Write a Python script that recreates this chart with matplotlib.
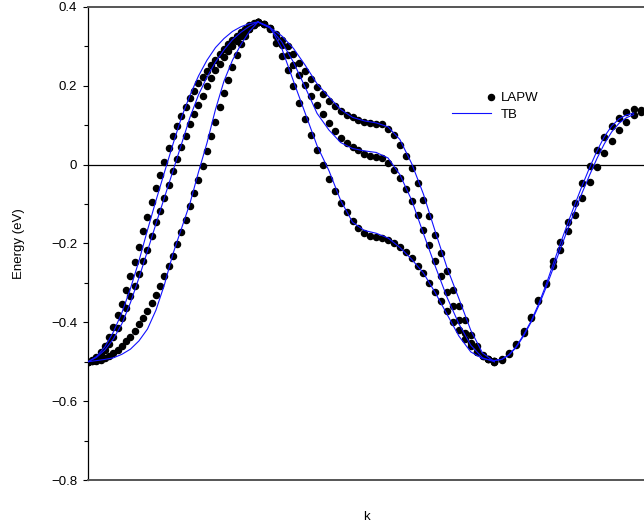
import matplotlib
matplotlib.use("Agg")
import matplotlib.pyplot as plt
from matplotlib.lines import Line2D
from matplotlib.legend_handler import HandlerLine2DCompound
from matplotlib.ticker import MultipleLocator, FuncFormatter
import numpy as np

plt.rcParams['font.family'] = ['Liberation Sans', 'DejaVu Sans']

# k-path: three segments (arbitrary units), uniform k mesh in each
seg_edges = [0.0, 170.0, 406.4, 553.0]
k_seg1 = np.linspace(seg_edges[0], seg_edges[1], 41)
k_seg2 = np.linspace(seg_edges[1], seg_edges[2], 41)
k_seg3 = np.linspace(seg_edges[2], seg_edges[3], 21)

# LAPW bands (eV), segment 1
lapw1_a = [-0.500, -0.495, -0.488, -0.476, -0.461, -0.437, -0.412, -0.382, -0.353, -0.317,
           -0.283, -0.246, -0.209, -0.169, -0.133, -0.095, -0.059, -0.025, 0.008, 0.041,
           0.072, 0.097, 0.124, 0.147, 0.168, 0.188, 0.206, 0.222, 0.237, 0.252,
           0.266, 0.281, 0.294, 0.305, 0.315, 0.326, 0.337, 0.345, 0.354, 0.360, 0.362]
lapw1_b = [-0.500, -0.497, -0.491, -0.482, -0.470, -0.454, -0.436, -0.415, -0.389, -0.364,
           -0.334, -0.307, -0.277, -0.245, -0.216, -0.180, -0.146, -0.118, -0.085, -0.051,
           -0.017, 0.015, 0.044, 0.072, 0.102, 0.129, 0.152, 0.175, 0.199, 0.220,
           0.239, 0.256, 0.272, 0.288, 0.301, 0.313, 0.326, 0.337, 0.345, 0.354, 0.362]
lapw1_c = [-0.500, -0.499, -0.497, -0.495, -0.491, -0.485, -0.478, -0.470, -0.459, -0.447,
           -0.436, -0.421, -0.404, -0.389, -0.372, -0.351, -0.330, -0.307, -0.282, -0.256,
           -0.231, -0.201, -0.171, -0.140, -0.106, -0.072, -0.038, -0.003, 0.034, 0.072,
           0.108, 0.146, 0.181, 0.216, 0.248, 0.279, 0.305, 0.327, 0.343, 0.354, 0.362]

# LAPW bands, segment 2
lapw2_a = [0.362, 0.357, 0.347, 0.332, 0.317, 0.300, 0.281, 0.258, 0.237, 0.218,
           0.196, 0.178, 0.161, 0.148, 0.135, 0.127, 0.120, 0.114, 0.108, 0.106,
           0.104, 0.102, 0.091, 0.076, 0.051, 0.023, -0.008, -0.046, -0.089, -0.131,
           -0.178, -0.224, -0.271, -0.317, -0.358, -0.395, -0.431, -0.461, -0.482, -0.493, -0.499]
lapw2_b = [0.362, 0.356, 0.345, 0.326, 0.303, 0.277, 0.254, 0.228, 0.201, 0.175,
           0.152, 0.129, 0.106, 0.085, 0.068, 0.055, 0.044, 0.036, 0.027, 0.023,
           0.020, 0.017, 0.004, -0.013, -0.034, -0.062, -0.093, -0.127, -0.165, -0.203,
           -0.245, -0.283, -0.322, -0.358, -0.393, -0.427, -0.453, -0.474, -0.485, -0.493, -0.499]
lapw2_c = [0.362, 0.357, 0.347, 0.309, 0.275, 0.239, 0.199, 0.157, 0.116, 0.076,
           0.036, 0.000, -0.036, -0.068, -0.096, -0.121, -0.142, -0.161, -0.173, -0.180,
           -0.184, -0.186, -0.190, -0.199, -0.208, -0.221, -0.237, -0.256, -0.275, -0.299,
           -0.323, -0.347, -0.372, -0.398, -0.419, -0.442, -0.461, -0.476, -0.485, -0.493, -0.497]

# LAPW bands, segment 3 (two visible branches)
lapw3_a = [-0.500, -0.493, -0.478, -0.454, -0.423, -0.387, -0.344, -0.299, -0.245, -0.196,
           -0.145, -0.096, -0.047, -0.004, 0.036, 0.070, 0.097, 0.118, 0.133, 0.140, 0.138]
lapw3_b = [-0.500, -0.495, -0.480, -0.457, -0.426, -0.389, -0.347, -0.302, -0.258, -0.216,
           -0.169, -0.127, -0.085, -0.045, -0.006, 0.030, 0.059, 0.087, 0.108, 0.125, 0.134]

# TB bands, every second k point in segments 1 and 2
tb1_a = [-0.500, -0.487, -0.462, -0.424, -0.375, -0.314, -0.244, -0.166, -0.091, -0.019, 0.052,
         0.120, 0.176, 0.225, 0.265, 0.297, 0.320, 0.338, 0.350, 0.358, 0.362]
tb1_b = [-0.500, -0.489, -0.470, -0.442, -0.403, -0.350, -0.287, -0.219, -0.150, -0.083, -0.016,
         0.052, 0.120, 0.177, 0.222, 0.260, 0.291, 0.317, 0.336, 0.351, 0.362]
tb1_c = [-0.500, -0.497, -0.494, -0.490, -0.481, -0.468, -0.447, -0.417, -0.369, -0.304, -0.226,
         -0.162, -0.098, -0.019, 0.055, 0.140, 0.212, 0.265, 0.305, 0.338, 0.362]
tb2_a = [0.362, 0.348, 0.327, 0.295, 0.252, 0.205, 0.172, 0.140, 0.120, 0.111, 0.106,
         0.096, 0.064, 0.003, -0.075, -0.170, -0.262, -0.340, -0.420, -0.478, -0.500]
tb2_b = [0.362, 0.347, 0.312, 0.260, 0.196, 0.130, 0.088, 0.056, 0.041, 0.035, 0.031,
         0.017, -0.025, -0.090, -0.175, -0.258, -0.337, -0.404, -0.458, -0.490, -0.500]
tb2_c = [0.362, 0.350, 0.296, 0.212, 0.130, 0.048, -0.015, -0.091, -0.146, -0.167, -0.174,
         -0.186, -0.210, -0.240, -0.275, -0.325, -0.380, -0.435, -0.475, -0.492, -0.497]
# TB segment 3, first 20 k points
tb3_a = [-0.497, -0.494, -0.482, -0.461, -0.431, -0.397, -0.355, -0.307, -0.253, -0.200,
         -0.149, -0.100, -0.052, -0.007, 0.035, 0.071, 0.098, 0.116, 0.126, 0.131]
tb3_b = [-0.497, -0.494, -0.483, -0.463, -0.434, -0.400, -0.360, -0.314, -0.264, -0.214,
         -0.164, -0.116, -0.070, -0.026, 0.016, 0.053, 0.083, 0.105, 0.119, 0.127]

dot_kw = dict(linestyle='none', marker='o', markersize=4.4, color='black', zorder=3)
tb_kw = dict(color='#1010ff', linewidth=0.8, zorder=4)


class HandlerEndDot(HandlerLine2DCompound):
    # gnuplot-style key: the point sits at the right end of the sample
    def get_xdata(self, legend, xdescent, ydescent, width, height, fontsize):
        xdata = np.array([-xdescent, -xdescent + width])
        return xdata, np.array([-xdescent + width])


fig = plt.figure(figsize=(6.44, 5.29), dpi=100)
ax = fig.add_axes([0.1366, 0.0926, 0.8634, 0.8942])

ax.axhline(0, color='black', linewidth=0.9, zorder=1)

for band in (lapw1_a, lapw1_b, lapw1_c):
    ax.plot(k_seg1, band, **dot_kw)
for band in (lapw2_a, lapw2_b, lapw2_c):
    ax.plot(k_seg2, band, **dot_kw)
for band in (lapw3_a, lapw3_b):
    ax.plot(k_seg3, band, **dot_kw)

for band in (tb1_a, tb1_b, tb1_c):
    ax.plot(k_seg1[::2], band, **tb_kw)
for band in (tb2_a, tb2_b, tb2_c):
    ax.plot(k_seg2[::2], band, **tb_kw)
for band in (tb3_a, tb3_b):
    ax.plot(k_seg3[:20], band, **tb_kw)

ax.set_xlim(0, 556)
ax.set_ylim(-0.8, 0.4)
ax.set_xticks([])
ax.yaxis.set_major_locator(MultipleLocator(0.2))
ax.yaxis.set_minor_locator(MultipleLocator(0.1))
ax.yaxis.set_major_formatter(FuncFormatter(lambda v, p: ('%g' % round(v, 2)).replace('-', '\u2212')))
ax.tick_params(axis='y', which='major', direction='out', length=3.8, width=0.8, labelsize=9.5, pad=4)
ax.tick_params(axis='y', which='minor', direction='out', length=2.6, width=0.8)

ax.spines['right'].set_visible(False)
ax.spines['left'].set_linewidth(0.9)
for s in ('top', 'bottom'):
    ax.spines[s].set_color('#555555')
    ax.spines[s].set_linewidth(1.4)

ax.set_xlabel('k', fontsize=9.5, labelpad=22)
ax.set_ylabel('Energy (eV)', fontsize=9.5, labelpad=19)

dot_handle = Line2D([], [], linestyle='none', marker='o', markersize=4.4, color='black')
tb_handle = Line2D([], [], color='#1010ff', linewidth=0.8)
ax.legend([dot_handle, tb_handle], ['LAPW', 'TB'], loc='upper left',
          bbox_to_anchor=(0.645, 0.831), frameon=False, fontsize=9.5, numpoints=1,
          handlelength=2.95, handletextpad=0.76, labelspacing=0.3, borderaxespad=0,
          handler_map={dot_handle: HandlerEndDot()})

fig.savefig('out.png', dpi=100)
